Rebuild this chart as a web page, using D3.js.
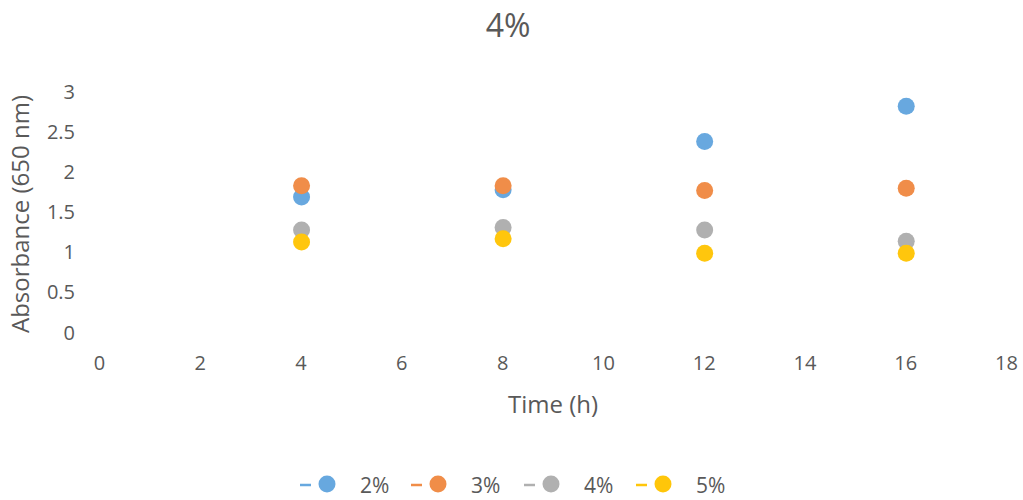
<!DOCTYPE html>
<html>
<head>
<meta charset="utf-8">
<script src="https://cdn.jsdelivr.net/npm/d3@7"></script>
<style>
  html, body { margin: 0; padding: 0; background: #fff; }
  svg { display: block; font-family: "Open Sans", "Noto Sans", sans-serif; }
</style>
</head>
<body>
<svg id="chart" width="1023" height="500"></svg>
<script>
// Sampling times (h)
const times = [4, 8, 12, 16];
// Absorbance at 650 nm for each concentration
const series = ["2%", "3%", "4%", "5%"];
const abs2 = [1.68, 1.77, 2.37, 2.81];
const abs3 = [1.82, 1.82, 1.76, 1.79];
const abs4 = [1.27, 1.30, 1.27, 1.13];
const abs5 = [1.12, 1.16, 0.98, 0.98];
const colors = ["#67a8df", "#f08d48", "#b0b0b0", "#ffc60a"];
const xTicks = d3.range(0, 19, 2);
const yTicks = [0, 0.5, 1, 1.5, 2, 2.5, 3];
const title = "4%";

const values = [abs2, abs3, abs4, abs5];
const svg = d3.select("#chart");
const textColor = "#595959";
const font = "Open Sans, Noto Sans, sans-serif";

const x = d3.scaleLinear().domain([0, 18]).range([99, 1006]);
const y = d3.scaleLinear().domain([0, 3]).range([332, 91]);

// Title
svg.append("text")
  .attr("x", 508).attr("y", 37)
  .attr("text-anchor", "middle")
  .attr("font-size", 32)
  .attr("fill", textColor)
  .text(title);

// Axes (labels only, no lines)
const xAxis = svg.append("g")
  .attr("transform", `translate(0,${y(0) + 38})`)
  .call(d3.axisBottom(x).tickValues(xTicks).tickSize(0).tickPadding(0).tickFormat(d3.format("d")));
xAxis.select(".domain").remove();
xAxis.selectAll("text").attr("font-size", 20).attr("fill", textColor)
  .attr("dy", 0).attr("font-family", font);

const yAxis = svg.append("g")
  .attr("transform", "translate(75,0)")
  .call(d3.axisLeft(y).tickValues(yTicks).tickSize(0).tickPadding(0).tickFormat(d => String(d)));
yAxis.select(".domain").remove();
yAxis.selectAll("text").attr("font-size", 20).attr("fill", textColor)
  .attr("text-anchor", "end").attr("dy", "0.35em")
  .attr("font-family", font);

// Axis titles
svg.append("text")
  .attr("x", 553).attr("y", 413)
  .attr("text-anchor", "middle")
  .attr("font-size", 24)
  .attr("fill", textColor)
  .text("Time (h)");

svg.append("text")
  .attr("transform", "translate(29,214) rotate(-90)")
  .attr("text-anchor", "middle")
  .attr("font-size", 24)
  .attr("fill", textColor)
  .text("Absorbance (650 nm)");

// Scatter points, slightly softened edges
const defs = svg.append("defs");
defs.append("filter").attr("id", "soft")
  .append("feGaussianBlur").attr("stdDeviation", 0.5);

values.forEach((vals, i) => {
  svg.append("g").attr("filter", "url(#soft)").selectAll("circle")
    .data(vals.map((v, j) => ({ t: times[j], v })))
    .join("circle")
    .attr("cx", d => x(d.t) + 1)
    .attr("cy", d => y(d.v))
    .attr("r", 8.5)
    .attr("fill", colors[i]);
});

// Legend (bottom edge clipped)
defs.append("clipPath").attr("id", "legclip")
  .append("rect").attr("x", 0).attr("y", 440).attr("width", 1023).attr("height", 53);

const legend = svg.append("g").attr("clip-path", "url(#legclip)");
const legX = [300, 411, 524, 636];
series.forEach((name, i) => {
  const g = legend.append("g").attr("transform", `translate(${legX[i]},0)`);
  g.append("line")
    .attr("x1", 0).attr("x2", 11)
    .attr("y1", 485).attr("y2", 485)
    .attr("stroke", colors[i]).attr("stroke-width", 2.5);
  g.append("circle")
    .attr("cx", 27).attr("cy", 484).attr("r", 8.5)
    .attr("fill", colors[i]);
  g.append("text")
    .attr("x", 60).attr("y", 493)
    .attr("font-size", 21)
    .attr("fill", textColor)
    .text(name);
});
</script>
</body>
</html>
